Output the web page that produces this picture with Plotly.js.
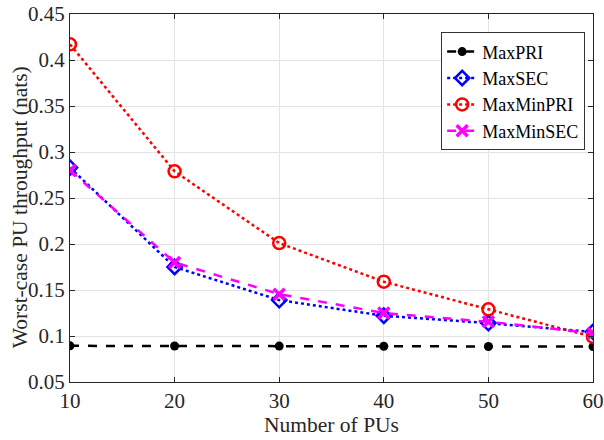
<!DOCTYPE html>
<html><head><meta charset="utf-8">
<script src="https://cdn.plot.ly/plotly-3.0.1.min.js"></script>
<style>html,body{margin:0;padding:0;background:#fff}</style>
</head><body>
<div id="chart" style="width:604px;height:440px"></div>
<script>
const numPUs = [10, 20, 30, 40, 50, 60];
const maxPRI = [0.0893, 0.0891, 0.089, 0.0888, 0.0886, 0.0885];
const maxSEC = [0.283, 0.175, 0.139, 0.122, 0.114, 0.1045];
const maxMinPRI = [0.417, 0.279, 0.201, 0.159, 0.129, 0.099];
const maxMinSEC = [0.280, 0.180, 0.1455, 0.125, 0.1155, 0.103];
const xTitle = 'Number of PUs';
const yTitle = 'Worst-case PU throughput (nats)';

const traces = [
  {x: numPUs, y: maxPRI, name: 'MaxPRI', mode: 'lines+markers',
   line: {color: '#000', dash: 'dash', width: 2.5},
   marker: {symbol: 'circle', size: 9, color: '#000'}},
  {x: numPUs, y: maxSEC, name: 'MaxSEC', mode: 'lines+markers',
   line: {color: '#0000ff', dash: 'dot', width: 2.5},
   marker: {symbol: 'diamond-open', size: 11, color: '#0000ff', line: {width: 2.5, color: '#0000ff'}}},
  {x: numPUs, y: maxMinPRI, name: 'MaxMinPRI', mode: 'lines+markers',
   line: {color: '#ff0000', dash: 'dot', width: 2.5},
   marker: {symbol: 'circle-open', size: 12, color: '#ff0000', line: {width: 2.5, color: '#ff0000'}}},
  {x: numPUs, y: maxMinSEC, name: 'MaxMinSEC', mode: 'lines+markers',
   line: {color: '#ff00ff', dash: 'dash', width: 2.5},
   marker: {symbol: 'x-thin-open', size: 11, color: '#ff00ff', line: {width: 3.5, color: '#ff00ff'}}}
];

const fam = '"Liberation Serif", "Times New Roman", serif';
const font = {family: fam, color: '#262626', size: 21};
const layout = {
  width: 604, height: 440,
  margin: {l: 70, r: 11, t: 14, b: 58},
  paper_bgcolor: '#fff', plot_bgcolor: '#fff',
  font: font,
  showlegend: true,
  legend: {x: 0.985, y: 0.95, xanchor: 'right', yanchor: 'top',
    bgcolor: '#fff', bordercolor: '#333', borderwidth: 1,
    font: {family: fam, size: 18, color: '#000'},
    tracegroupgap: 0, itemwidth: 30},
  xaxis: {
    range: [10, 60], tickvals: [10, 20, 30, 40, 50, 60],
    ticks: 'inside', ticklen: 5, tickcolor: '#262626', mirror: 'ticks',
    showline: true, linecolor: '#262626', linewidth: 1,
    showgrid: true, gridcolor: '#e3e3e3', gridwidth: 1, zeroline: false,
    tickfont: {family: fam, size: 21, color: '#262626'},
    title: {text: xTitle, font: {family: fam, size: 21.5, color: '#262626'}, standoff: 1}
  },
  yaxis: {
    range: [0.05, 0.45], tickvals: [0.05, 0.1, 0.15, 0.2, 0.25, 0.3, 0.35, 0.4, 0.45],
    ticktext: ['0.05', '0.1', '0.15', '0.2', '0.25', '0.3', '0.35', '0.4', '0.45'],
    ticks: 'inside', ticklen: 5, tickcolor: '#262626', mirror: 'ticks',
    showline: true, linecolor: '#262626', linewidth: 1,
    showgrid: true, gridcolor: '#e3e3e3', gridwidth: 1, zeroline: false,
    tickfont: {family: fam, size: 21, color: '#262626'}
  },
  annotations: [{
    text: yTitle, xref: 'paper', yref: 'paper', x: 0, y: 0.475,
    xanchor: 'center', yanchor: 'middle', xshift: -50, textangle: -90,
    showarrow: false, font: {family: fam, size: 21.5, color: '#262626'}
  }]
};
Plotly.newPlot('chart', traces, layout, {displayModeBar: false, staticPlot: true});
</script>
</body></html>
